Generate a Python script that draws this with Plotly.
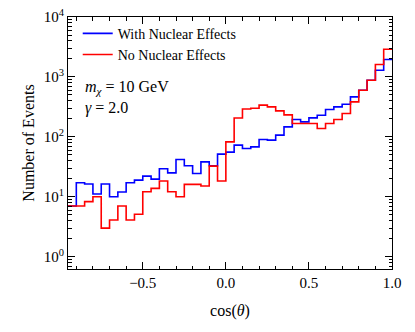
import numpy as np
import plotly.graph_objects as go

# bin edges of cos(theta), 0.05 wide
edges = np.round(np.arange(-0.95, 1.0001, 0.05), 3)

with_nuclear = [7.0, 17.1, 16.3, 11.1, 16.3, 10.0, 12.0, 17.1, 19.0, 22.1,
                19.7, 29.3, 25.1, 42.0, 32.9, 24.5, 38.3, 32.9, 51.5, 55.6,
                72.7, 64.1, 68.1, 90.5, 88.1, 107, 147, 195, 178, 207,
                230, 286, 316, 351, 464, 600, 881, 1293, 1950]

no_nuclear = [7.0, 7.0, 8.3, 10.0, 3.0, 4.1, 7.0, 4.1, 5.1, 12.1,
              13.8, 18.3, 12.1, 10.0, 16.1, 16.1, 15.1, 32.5, 18.3, 82.5,
              206, 292, 301, 338, 316, 271, 233, 167, 167, 167,
              138, 167, 195, 245, 383, 600, 881, 1610, 2895]

xtick_vals = [-0.5, 0.0, 0.5, 1.0]
xtick_text = ["\u22120.5", "0.0", "0.5", "1.0"]
ytick_vals = [1, 10, 100, 1000, 10000]
ytick_text = ["10<sup>%d</sup>" % i for i in range(5)]
ytick_minor = [m * 10.0 ** e for e in range(-1, 4) for m in range(2, 10)]

FONT = "Liberation Serif"

fig = go.Figure()
for name, vals, col in [("With Nuclear Effects", with_nuclear, "#0000ff"),
                        ("No Nuclear Effects", no_nuclear, "#ff0000")]:
    fig.add_trace(go.Scatter(
        x=edges, y=list(vals) + [vals[-1]],
        mode="lines", line=dict(color=col, width=1.6, shape="hv"),
        name=name))

axis_common = dict(showline=True, linecolor="black", linewidth=1, mirror="allticks",
                   ticks="inside", ticklen=7, tickwidth=1, tickcolor="black",
                   showgrid=False, zeroline=False, automargin=False,
                   tickfont=dict(family=FONT, size=15, color="black"))

fig.update_xaxes(range=[-0.95, 1.0], tickvals=xtick_vals, ticktext=xtick_text,
                 minor=dict(ticks="inside", ticklen=3.5, tickcolor="black", dtick=0.1, tick0=0,
                            showgrid=False),
                 title=dict(text="cos(<i>θ</i>)", font=dict(family=FONT, size=16, color="black"),
                            standoff=14),
                 **axis_common)
fig.update_yaxes(type="log", range=[-0.205, 4.0], tickvals=ytick_vals, ticktext=ytick_text,
                 minor=dict(ticks="inside", ticklen=3.5, tickcolor="black", showgrid=False,
                            tickvals=ytick_minor),
                 title=dict(text="Number of Events", font=dict(family=FONT, size=16, color="black"),
                            standoff=5),
                 **axis_common)

fig.add_annotation(x=0.045, y=0.72, xref="paper", yref="paper", xanchor="left", yanchor="middle",
                   text="<i>m</i><sub><i>χ</i></sub> = 10 GeV", showarrow=False,
                   font=dict(family=FONT, size=16, color="black"))
fig.add_annotation(x=0.045, y=0.64, xref="paper", yref="paper", xanchor="left", yanchor="middle",
                   text="<i>γ</i> = 2.0", showarrow=False,
                   font=dict(family=FONT, size=16, color="black"))

fig.update_layout(width=415, height=332, margin=dict(l=68, r=23, t=17, b=63),
                  plot_bgcolor="white", paper_bgcolor="white",
                  font=dict(family=FONT, size=15, color="black"),
                  legend=dict(x=0.03, y=0.997, xanchor="left", yanchor="top",
                              bgcolor="rgba(0,0,0,0)", borderwidth=0,
                              font=dict(family=FONT, size=14, color="black"),
                              tracegroupgap=0, itemwidth=30))

# drop the default page margin so the figure sits at the window's corner
fig.write_html("out.html", config={"displayModeBar": False},
               post_script="document.body.style.margin='0';")
